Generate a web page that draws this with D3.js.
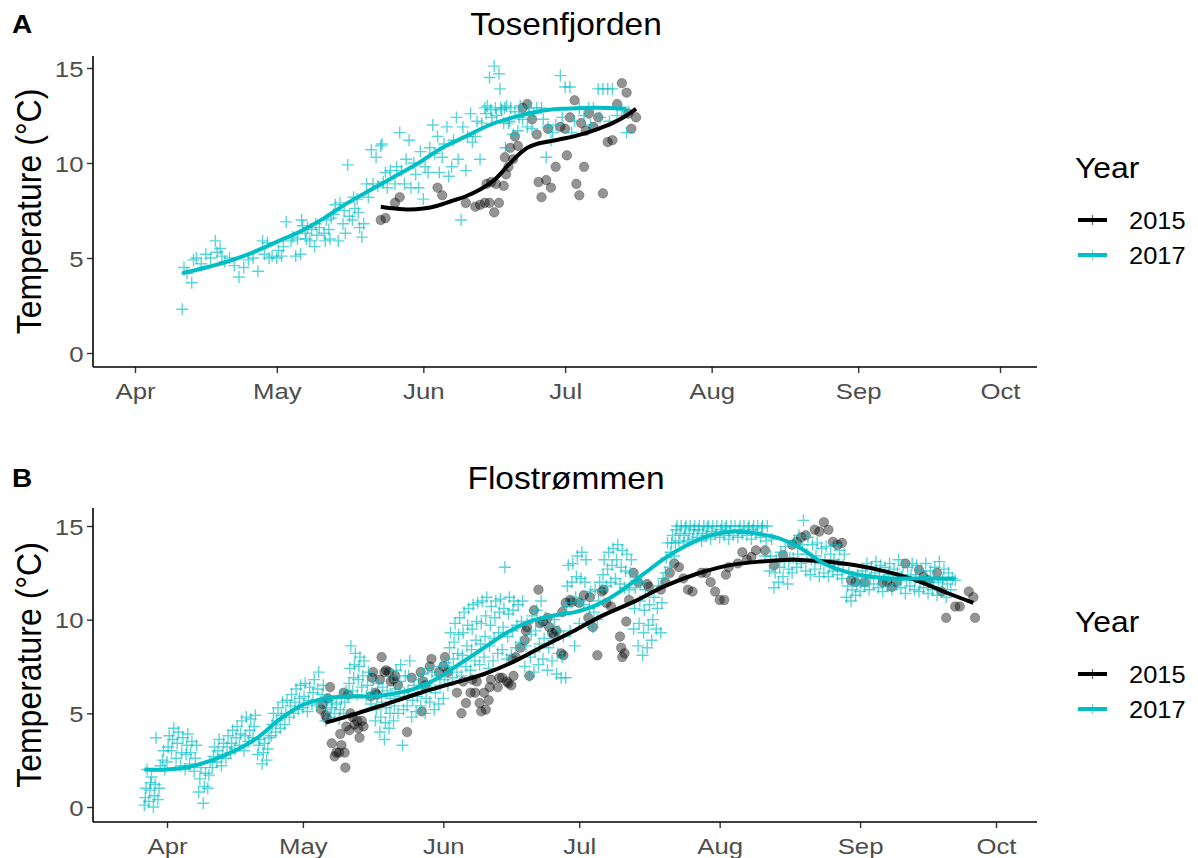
<!DOCTYPE html>
<html>
<head>
<meta charset="utf-8">
<script src="https://cdn.jsdelivr.net/npm/d3@7"></script>
<style>
  body { margin: 0; background: #fff; }
  text { font-family: "Liberation Sans", Arial, Helvetica, sans-serif; }
</style>
</head>
<body>
<script>
var years = ["2015", "2017"];
var yearColors = ["#000000", "#00BFC4"];
var monthTicks = ["04-01", "05-01", "06-01", "07-01", "08-01", "09-01", "10-01"];
var yTicks = [0, 5, 10, 15];

// daily readings, first entry = start date, one array per consecutive day

// Tosenfjorden 2015
var tosen2015Start = "05-23";
var tosen2015 = [
  [7.0],[7.1],[],[7.9],[8.2],[],[],[],[],[],
  [],[],[8.7],[8.3],[],[],[],[],[7.9],[],
  [7.7],[7.8],[7.9,8.9],[7.9,9.0],[7.4,8.9],[7.9],[8.8,10.3,9.4],[9.8,10.8],[10.2,11.4],[10.9],
  [12.9],[13.1],[12.3],[11.5,9.0],[8.2],[9.1,11.8],[8.7],[9.8],[11.9],[11.8,10.4],
  [12.4],[13.3,8.9],[8.3,12.1],[9.8,11.7],[12.6],[11.9],[12.4],[8.4],[11.1],[11.2],
  [13.1],[14.2],[13.7,12.6],[11.8],[12.4]
];

// Tosenfjorden 2017
var tosen2017Start = "04-11";
var tosen2017 = [
  [2.3,4.5],[4.2],[3.7,4.9],[5.0],[4.7],[5.2],[5.0],[5.9,5.3],[5.5,5.1],[4.8],
  [5.0],[4.6],[4.0],[4.5],[4.9],[5.0],[4.3],[5.9,5.2],[5.8,5.0],[5.1],
  [5.0,5.4],[5.1,5.6],[6.9],[5.9,6.1],[5.1,6.0],[5.2,7.0,6.7],[6.3,6.0,6.6],[5.9,6.5],[5.6,6.8,6.2],[6.6],
  [6.3,5.9,7.0],[6.5,6.0,7.1],[7.3,7.8],[5.9,7.9],[6.8,7.5,6.3],[9.9,7.2],[7.0,8.2,7.6],[8.1,7.4,6.6],[6.1,6.8],[8.9,8.2],
  [10.7,8.9],[10.3,8.8],[10.9,11.0,9.0],[9.5,8.7],[9.6],[8.9,9.8],[11.6,9.6],[8.9,10.2],[11.2,8.7],[10.0,9.4],
  [8.7,10.6],[8.1,9.8],[9.5,10.8],[12.0,10.5],[11.4,9.5],[10.3,11.0],[11.9,9.3],[9.8,11.2],[12.4,10.2],[7.0,11.9],
  [9.6,11.4],[12.6,11.1],[11.4,12.2],[10.2,12.1],[12.9,12.6,13.0],[14.5,12.8,12.4],[15.1,12.9,12.5],[14.7,13.9,12.9,12.8],[12.1,12.9,10.8,13.0],[12.1,12.2,12.9],
  [11.5,12.7],[11.7,12.4,13.0],[12.3],[11.9,12.9,12.5],[11.8,12.6],[12.9],[12.9,12.3],[10.3,11.9],[11.2,11.6],[12.0],
  [14.6,12.4],[14.0],[14.0,11.6],[12.2],[12.9],[12.5],[12.9,12.0],[12.9],[13.9,12.4],[13.9],
  [13.9,12.2],[13.9],[12.5],[12.8],[11.6,12.7]
];

// Flostrømmen 2015
var flo2015Start = "05-05";
var flo2015 = [
  [5.2,5.5],[4.9,4.75,5.8],[6.4,3.4],[2.7,2.9],[2.9,3.9,3.3],[6.1,2.9,2.1,4.3],[6.0,4.1,5.0],[4.8,4.4],[4.6,4.2,3.7],[4.6,4.3],
  [],[5.9,6.9,7.2],[6.1,6.0],[6.8,8.0],[7.2,7.3],[7.2,6.7],[6.8,7.0],[6.5],[],[4.0],
  [6.9],[],[7.2,5.1,6.7],[6.5],[7.5,7.9],[],[7.2],[7.5,8.0],[7.2],[],
  [6.1],[5.0,6.7],[5.55],[6.1,6.8],[6.1,6.7],[5.55,5.1],[6.1,5.2],[5.7,6.4,6.8],[],[6.4,6.9],
  [6.9],[6.7,6.6],[6.5,7.9,7.0],[8.0],[8.5],[8.9,9.4,9.6],[7.0],[10.5],[11.6,9.8],[9.9],
  [10.1,9.6],[9.3,9.2],[9.4],[8.2,10.4,8.1],[10.9],[11.05,10.95],[],[10.9],[11.3],[10.1,11.2],
  [9.6],[8.1],[11.5,11.6],[10.9],[10.7],[],[9.1,8.5,8.0],[8.2,9.9],[11.05],[12.5],
  [12.0],[],[11.9,11.75],[],[],[11.6],[12.0],[12.5],[13.0],[12.8],
  [12.2],[11.6],[11.5],[],[12.5],[12.5],[12.0],[11.5],[11.05],[11.05,12.4],
  [12.8],[],[13.0],[13.6],[13.2],[13.35],[13.7],[],[13.7],[],
  [12.9],[],[13.45],[],[14.0],[14.15],[14.4],[14.5],[],[14.8],
  [14.7],[15.2],[14.8],[14.15],[14.0],[14.1],[],[12.1],[12.0],[],
  [12.0],[],[],[],[12.0],[12.0],[11.75],[12.0],[],[13.0],
  [],[],[12.65],[12.3],[12.1],[],[12.5],[11.5],[10.1],[],
  [10.7],[10.7],[],[11.5],[11.2,10.1]
];

// Flostrømmen 2017
var flo2017Start = "03-27";
var flo2017 = [
  [0.1,0.5,1.0,2.0],[0.3,0.9,1.3,1.6],[0.0,0.6,1.2,3.7],[0.4,1.0,2.2],[2.5,3.0,2.0],[2.4,3.2,3.8],[3.0,3.6,4.2],[2.6,3.4,4.0],[2.2,2.9,3.7],[2.0,2.8,3.3,3.9],
  [2.3,2.9,3.5],[1.9,2.6,3.3],[0.8,1.5,2.1],[0.2,1.1,1.8],[1.0,1.7,2.4],[2.1,2.7,3.2],[2.4,3.0,3.6],[2.2,2.8,3.4],[2.6,3.2,3.8],[2.9,3.4,4.1],
  [3.1,3.7,4.3],[3.3,3.9,4.6],[3.0,3.8,4.8],[3.5,4.1,4.7],[3.7,4.3,4.9],[2.8,3.3,3.6],[2.3,2.9,3.4],[2.5,3.1,3.7],[3.8,4.4,5.0],[4.0,4.6,5.3],
  [4.2,4.9,5.6],[4.4,5.0,5.7],[4.8,5.4,6.0],[5.0,5.6,6.3],[5.2,5.8,6.5],[5.3,5.9,6.6],[5.1,5.7,6.4],[5.5,6.1,6.8],[5.4,6.3,7.2],[5.6,6.0,6.5],
  [4.6,5.2,5.7],[4.8,5.3,5.6],[5.0,5.5],[4.7,5.2,5.8],[5.0,5.6,6.2],[5.9,6.6,7.4,8.6],[6.2,6.9,7.6,8.2],[6.0,6.8,7.5,8.0],[6.4,7.0,7.8],[5.9,6.5,7.2],
  [5.5,6.1,6.8],[4.6,5.2,5.9,6.6],[4.0,4.8,5.6,6.4],[3.6,4.5,5.3,6.2],[4.2,5.0,5.8,7.0],[4.6,5.4,6.3,7.3],[5.0,5.9,6.7,7.6],[3.3,5.2,6.1,7.0],[5.4,6.2,7.0,7.8],[4.8,5.7,6.5],
  [5.1,5.9,6.8],[5.4,6.3,7.1],[5.0,5.8,6.6,7.4],[5.6,6.4,7.2],[5.2,6.1,7.0],[5.5,6.5,7.5],[5.8,6.8,7.7],[6.5,7.5,8.5,9.3],[6.9,7.9,8.8,9.8],[7.2,8.2,9.2,10.1],
  [7.0,8.1,9.3,10.4],[7.5,8.6,9.7,10.6],[7.3,8.4,9.5,10.8],[7.8,8.9,9.9,10.9],[7.6,8.7,9.8,11.0],[8.0,9.1,10.2,11.2],[7.4,8.6,9.7,10.7],[7.8,9.0,10.1,11.0],[8.2,9.3,10.4,11.1],[8.4,9.6,10.6,12.8],
  [7.9,9.1,10.3,11.2],[8.1,9.4,10.5,11.0],[8.5,9.7,10.8],[8.8,9.9,11.0],[7.5,8.6,9.8],[7.0,8.0,9.2,10.2],[7.2,8.3,9.4,10.5],[7.6,8.7,9.9,11.0],[7.9,9.0,10.1],[7.3,8.5,9.6],
  [7.8,8.9,10.0],[7.1,8.2,9.4],[6.9,8.0,9.1],[6.9,10.7,11.8,12.9],[9.4,10.9,12.0,13.0],[8.6,11.2,12.3,13.4],[9.8,11.0,12.2,13.6],[10.8,12.0,13.2],[9.8,10.6,11.5],[9.6,10.4,11.6],
  [10.0,11.0,12.0],[11.6,12.4,13.2],[11.8,12.7,13.6],[12.0,12.9,13.8],[12.2,13.2,14.0],[11.9,12.8,13.7],[11.7,12.6,13.5],[11.6,12.5,13.2],[9.5,10.6,11.7,12.1],[8.6,9.8,11.0,12.0],
  [8.1,9.3,10.5,11.6],[8.5,9.7,10.8],[8.9,10.0,11.2],[9.5,10.6,11.8],[9.3,10.9,12.2],[12.5,13.3,14.1],[12.8,13.6,14.1,14.5],[13.4,14.1,14.8,15.0],[14.2,14.6,15.0],[14.1,14.5,14.9,15.0],
  [14.2,14.6,15.0],[14.3,14.8,15.0],[14.4,14.8,15.0],[14.2,14.6,15.0],[14.5,14.9,15.0],[14.3,14.7,15.0],[14.6,15.0],[14.4,14.8,15.0],[14.5,14.9,15.0],[14.3,14.7,15.0],
  [14.5,15.0],[14.4,14.8,15.0],[14.6,15.0],[14.5,14.9,15.0],[14.3,14.8,15.0],[14.6,15.0],[14.4,14.9,15.0],[13.4,14.2,15.0],[12.6,13.4,14.3],[11.7,12.5,13.2],
  [12.0,12.8,13.6],[12.3,13.1,13.9],[11.9,12.7,13.3],[12.5,13.3,14.2],[12.8,13.5,14.5],[13.0,14.0,15.3],[12.6,13.5,14.4],[12.4,13.2,14.0],[12.7,13.4,14.1],[12.3,13.0,13.8],
  [12.5,13.2,13.9],[12.3,12.9,13.5],[12.6,13.2,14.0],[12.4,13.0,13.7],[12.2,12.9,13.5],[11.2,11.8,12.5],[11.0,11.6,12.3],[11.3,11.9,12.4],[11.5,12.0,12.6],[11.8,12.4,13.0],
  [11.6,12.2,12.8],[11.9,12.5,13.1],[11.7,12.3,12.9],[11.5,12.1,12.8],[11.8,12.4,13.0],[11.6,12.2,12.7],[11.9,12.5,13.2],[11.7,12.3,12.9],[11.4,12.1,12.8],[11.8,12.4,13.0],
  [11.6,12.2,12.9],[11.5,12.0,12.6],[11.7,12.3,13.0],[11.4,12.0,12.6],[11.6,12.2,12.8],[11.3,12.0,13.1],[11.5,12.1,12.7],[11.2,11.9,12.5],[11.6,12.2],[12.1]
];

// smoothed fits
var tosen2015SmoothDates = ["05-23","05-26","05-29","06-01","06-04","06-07","06-10","06-13","06-16","06-19","06-21","06-23","06-25","06-28","07-01","07-05","07-08","07-11","07-14","07-16"];
var tosen2015SmoothTemps = [7.7,7.6,7.55,7.6,7.75,8.0,8.25,8.6,9.1,9.9,10.4,10.8,11.0,11.15,11.3,11.55,11.8,12.1,12.5,12.85];
var tosen2017SmoothDates = ["04-11","04-16","04-21","04-26","05-01","05-06","05-11","05-16","05-21","05-26","05-31","06-05","06-10","06-15","06-20","06-25","06-30","07-05","07-10","07-14"];
var tosen2017SmoothTemps = [4.2,4.5,4.85,5.3,5.85,6.4,7.1,7.9,8.6,9.3,10.0,10.8,11.4,12.0,12.4,12.7,12.85,12.9,12.9,12.85];
var flo2015SmoothDates = ["05-06","05-13","05-20","05-27","06-03","06-10","06-16","06-22","06-29","07-06","07-13","07-20","07-27","08-03","08-10","08-17","08-24","08-31","09-07","09-14","09-20","09-26"];
var flo2015SmoothTemps = [4.5,5.0,5.55,6.1,6.6,7.1,7.7,8.45,9.3,10.2,10.95,11.8,12.45,12.9,13.1,13.2,13.1,12.9,12.55,12.05,11.45,10.9];
var flo2017SmoothDates = ["03-27","04-01","04-06","04-11","04-16","04-21","04-26","05-01","05-06","05-11","05-16","05-21","05-26","05-31","06-05","06-10","06-15","06-20","06-25","06-30","07-05","07-10","07-15","07-20","07-25","07-30","08-04","08-09","08-14","08-19","08-24","08-29","09-03","09-08","09-13","09-18","09-22"];
var flo2017SmoothTemps = [2.0,2.0,2.15,2.5,3.0,3.7,4.7,5.45,5.8,5.9,5.9,6.05,6.35,6.9,7.7,8.5,9.3,9.9,10.2,10.4,10.8,11.5,12.4,13.3,14.0,14.5,14.7,14.6,14.35,13.8,13.0,12.55,12.3,12.2,12.2,12.2,12.2];

var parseDay = d3.utcParse("%m-%d");

function expand(start, daily) {
  var t0 = parseDay(start), out = [];
  daily.forEach(function(vals, i) {
    vals.forEach(function(v, j) {
      var t = d3.utcHour.offset(d3.utcDay.offset(t0, i), Math.round(18 * j / vals.length));
      out.push({date: t, temp: v});
    });
  });
  return out;
}
function smooth(dates, temps) {
  return dates.map(function(d, i) { return {date: parseDay(d), temp: temps[i]}; });
}

var panels = [
  {letter: "A", title: "Tosenfjorden", top: 56, bottom: 367, y0: 353, y15: 68, xApr: 135, xOct: 1000, titleY: 35,
   pts: [expand(tosen2015Start, tosen2015), expand(tosen2017Start, tosen2017)],
   fits: [smooth(tosen2015SmoothDates, tosen2015SmoothTemps), smooth(tosen2017SmoothDates, tosen2017SmoothTemps)]},
  {letter: "B", title: "Flostrømmen", top: 508, bottom: 822, y0: 807, y15: 526, xApr: 167, xOct: 996, titleY: 489,
   pts: [expand(flo2015Start, flo2015), expand(flo2017Start, flo2017)],
   fits: [smooth(flo2015SmoothDates, flo2015SmoothTemps), smooth(flo2017SmoothDates, flo2017SmoothTemps)]}
];

var W = 1198, H = 858, left = 93, right = 1037;
var svg = d3.select("body").append("svg").attr("width", W).attr("height", H);

// text in the figure is a little wider than Liberation Sans
function wideText(sel, x, y, sx) {
  return sel.attr("transform", "translate(" + x + "," + y + ") scale(" + sx + ",1)");
}

panels.forEach(function(p) {
  var g = svg.append("g");
  var x = d3.scaleUtc()
      .domain([parseDay(monthTicks[0]), parseDay(monthTicks[monthTicks.length - 1])])
      .range([p.xApr, p.xOct]);
  var y = d3.scaleLinear().domain([0, 15]).range([p.y0, p.y15]);

  // points: 2015 circles, 2017 crosses
  g.append("g").selectAll("circle").data(p.pts[0]).enter().append("circle")
      .attr("cx", function(d) { return x(d.date); })
      .attr("cy", function(d) { return y(d.temp); })
      .attr("r", 4.8)
      .attr("fill", "#000").attr("fill-opacity", 0.42)
      .attr("stroke", "#000").attr("stroke-opacity", 0.3).attr("stroke-width", 0.8);

  g.append("g").selectAll("path").data(p.pts[1]).enter().append("path")
      .attr("transform", function(d) { return "translate(" + x(d.date) + "," + y(d.temp) + ")"; })
      .attr("d", "M-6,0H6M0,-6V6")
      .attr("stroke", yearColors[1]).attr("stroke-opacity", 0.65).attr("stroke-width", 1.4)
      .attr("fill", "none");

  var line = d3.line()
      .x(function(d) { return x(d.date); })
      .y(function(d) { return y(d.temp); })
      .curve(d3.curveCatmullRom);
  p.fits.forEach(function(f, i) {
    g.append("path").attr("d", line(f))
      .attr("fill", "none").attr("stroke", yearColors[i])
      .attr("stroke-width", 4).attr("stroke-linecap", "butt");
  });

  // axes
  var xAxis = g.append("g").attr("transform", "translate(0," + p.bottom + ")")
      .call(d3.axisBottom(x).tickValues(monthTicks.map(parseDay)).tickFormat(d3.utcFormat("%b")).tickSize(6).tickPadding(4));
  var yAxis = g.append("g").attr("transform", "translate(" + left + ",0)")
      .call(d3.axisLeft(y).tickValues(yTicks).tickSize(6).tickPadding(3));
  [xAxis, yAxis].forEach(function(a) {
    a.select(".domain").remove();
    a.selectAll(".tick line").attr("stroke", "#333").attr("stroke-width", 1.4);
    a.selectAll(".tick text").attr("fill", "#4D4D4D").style("font-size", "23px")
      .attr("transform", "scale(1.12,1)");
  });
  xAxis.selectAll(".tick text").attr("dy", "0.95em");
  yAxis.selectAll(".tick text").attr("dy", "0.36em").attr("x", -8.5);

  g.append("line").attr("x1", left).attr("x2", right).attr("y1", p.bottom).attr("y2", p.bottom)
      .attr("stroke", "#000").attr("stroke-width", 1.6);
  g.append("line").attr("x1", left).attr("x2", left).attr("y1", p.top).attr("y2", p.bottom)
      .attr("stroke", "#000").attr("stroke-width", 1.6);

  g.append("text").attr("transform", "translate(41," + ((p.top + p.bottom) / 2) + ") rotate(-90) scale(1,1.08)")
      .attr("text-anchor", "middle").style("font-size", "32px").attr("fill", "#000")
      .text("Temperature (°C)");

  wideText(g.append("text"), (left + right) / 2 + 1, p.titleY, 1.08)
      .attr("text-anchor", "middle").style("font-size", "31px").attr("fill", "#000")
      .text(p.title);
  wideText(g.append("text"), 12, p.titleY - 2, 1.12)
      .style("font-size", "25px").style("font-weight", "bold").attr("fill", "#000")
      .text(p.letter);

  // legend
  var ly = p.top + (p.letter === "A" ? 122 : 124);
  var lg = g.append("g").attr("transform", "translate(1075," + ly + ")");
  wideText(lg.append("text"), 0, 0, 1.06).style("font-size", "30px").attr("fill", "#000").text("Year");
  years.forEach(function(yr, i) {
    var yy = 42 + i * 35;
    lg.append("line").attr("x1", 3).attr("x2", 32).attr("y1", yy).attr("y2", yy)
      .attr("stroke", yearColors[i]).attr("stroke-width", 4);
    lg.append("path").attr("d", "M17.5," + (yy - 5) + "V" + (yy + 5))
      .attr("stroke", yearColors[i]).attr("stroke-opacity", 0.6).attr("stroke-width", 1.2);
    wideText(lg.append("text"), 54, yy + 9, 1.06).style("font-size", "24px").attr("fill", "#000").text(yr);
  });
});
</script>
</body>
</html>
